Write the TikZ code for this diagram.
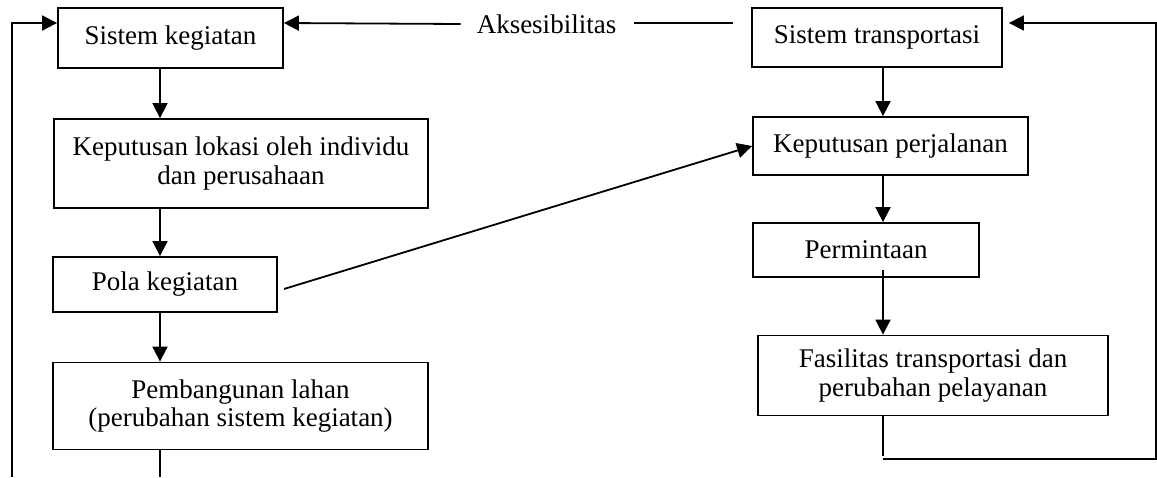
\documentclass[tikz,border=0pt]{standalone}
\usepackage{fontspec}
\setmainfont{Liberation Serif}
\usetikzlibrary{arrows.meta}
\begin{document}
\begin{tikzpicture}[x=1pt,y=-1pt,
  box/.style={draw,line width=1.8pt,inner sep=0pt,align=center,
    font=\fontsize{27}{28.5}\selectfont},
  lbl/.style={inner sep=0pt,font=\fontsize{27}{28.5}\selectfont},
  link/.style={line width=1.8pt},
  arr/.style={line width=1.8pt,-{Triangle[length=15pt,width=15pt]}}]
\useasboundingbox (0,0) rectangle (1157,477);

% left column: activity system
\node[box,minimum width=225pt,minimum height=60pt] (sk) at (170.5,38) {Sistem kegiatan};
\node[box,minimum width=374pt,minimum height=89pt] (kl) at (241,163.5)
  {Keputusan lokasi oleh individu\\dan perusahaan};
\node[box,minimum width=224pt,minimum height=55pt] (pk) at (165,284.5) {Pola kegiatan};
\node[box,minimum width=375pt,minimum height=87pt] (pl) at (240.5,406)
  {Pembangunan lahan\\(perubahan sistem kegiatan)};

% right column: transport system
\node[box,minimum width=250pt,minimum height=59pt] (st) at (877,37.5) {Sistem transportasi};
\node[box,minimum width=275pt,minimum height=58pt] (kp) at (890.5,146) {Keputusan perjalanan};
\node[box,minimum width=226pt,minimum height=54pt] (pm) at (866,250) {Permintaan};
\node[box,minimum width=350pt,minimum height=80pt] (fs) at (933,375.5)
  {Fasilitas transportasi dan\\perubahan pelayanan};

% accessibility label between the two systems
\node[lbl] (ak) at (546.5,24) {Aksesibilitas};

% helper coordinates
\coordinate (lx) at (160,0);
\coordinate (rx) at (883,0);
\coordinate (top) at (0,23);
\coordinate (lrail) at (12,477);
\coordinate (lend) at (160,477);
\coordinate (rrail) at (1156,459);
\coordinate (rend) at (883,459);
\coordinate (aR) at (733,23);
\coordinate (pkout) at (284,289);

% vertical flow, left
\draw[arr] (sk.south -| lx) -- (kl.north -| lx);
\draw[arr] (kl.south -| lx) -- (pk.north -| lx);
\draw[arr] (pk.south -| lx) -- (pl.north -| lx);
\draw[link] (pl.south -| lx) -- (lend);

% vertical flow, right
\draw[arr] (st.south -| rx) -- (kp.north -| rx);
\draw[arr] (kp.south -| rx) -- (pm.north -| rx);
\draw[arr] ([yshift=8pt]pm.south -| rx) -- (fs.north -| rx);

% activity pattern drives travel decisions
\draw[arr] (pkout) -- (kp.west);

% accessibility link
\draw[arr] (ak.west) ++(-16pt,0) -- (sk.east |- top);
\draw[link] ([xshift=18pt]ak.east |- top) -- (aR);

% feedback loops
\draw[arr] (lrail) -- (lrail |- top) -- (sk.west |- top);
\draw[link] (fs.south -| rx) -- ([yshift=3pt]rend);
\draw[link] (rend) -- (rrail) -- (rrail |- top);
\draw[arr] (1157,23) -- ([xshift=6pt]st.east |- top);
\end{tikzpicture}
\end{document}
